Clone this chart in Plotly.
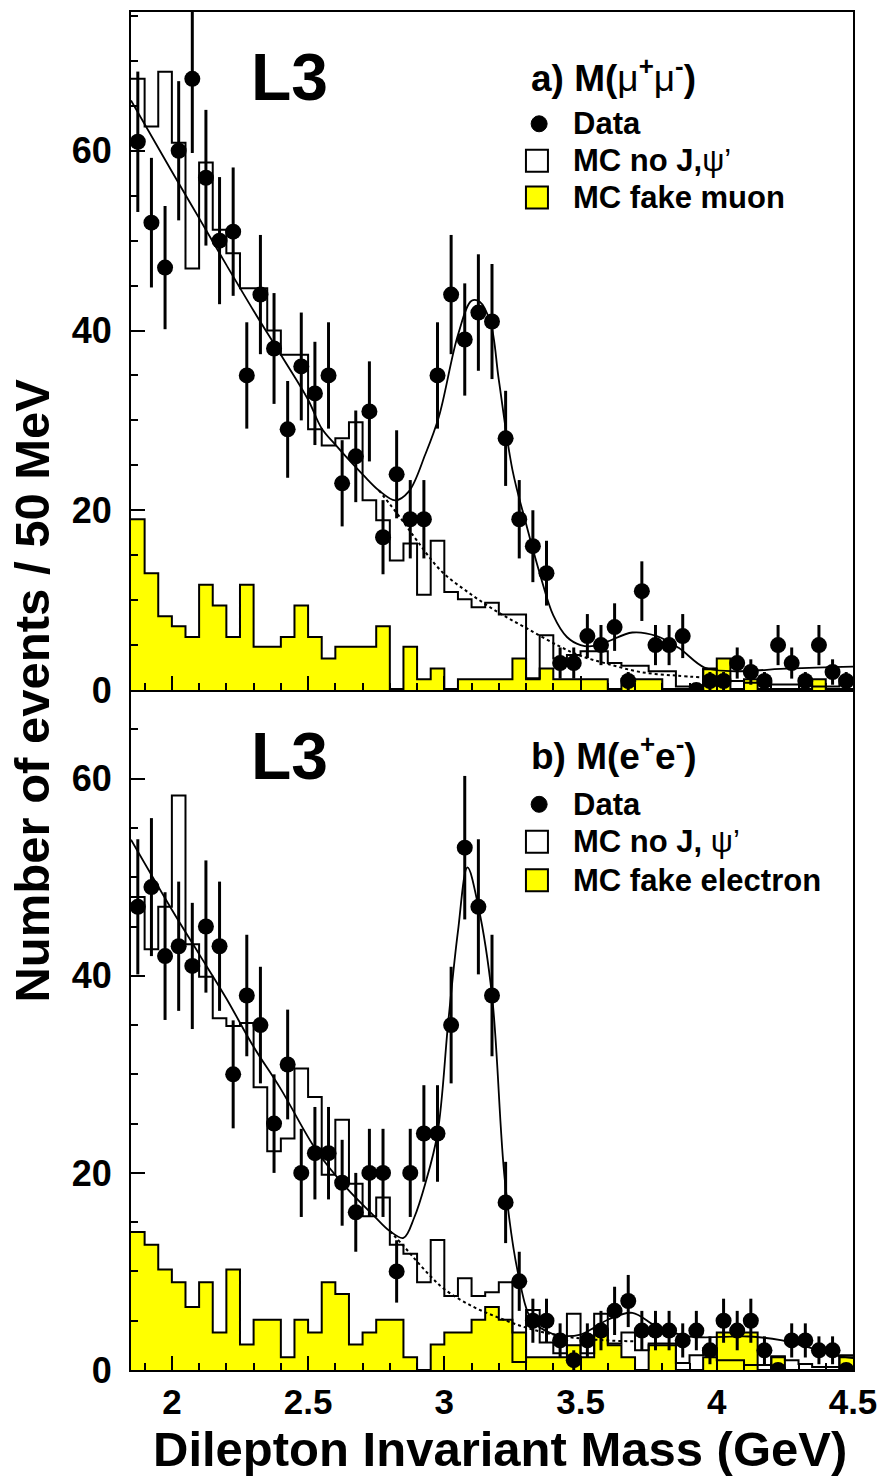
import numpy as np
import plotly.graph_objects as go

# ---------------- data ----------------
bin_lo = 1.85
bin_w = 0.05

# panel a) M(mu+ mu-)
data_mumu = [61, 52, 47, 60, 68, 57, 50, 51, 35, 44, 38, 29, 36, 33, 35, 23, 26, 31, 17, 24,
             19, 19, 35, 44, 39, 42, 41, 28, 19, 16, 13, 3, 3, 6, 5, 7, 1, 11, 5, 5,
             6, 0, 1, 1, 3, 2, 1, 5, 3, 1, 5, 2, 1]
mc_nojpsi_mumu = [68, 62.7, 68.8, 60.9, 46.9, 58.7, 51.2, 48.6, 44.7, 44.7, 40, 37.3, 37.3, 29.0,
                  27.2, 28.0, 29.8, 21.1, 18.9, 14.4, 16.3, 10.6, 16.6, 10.9, 10.1, 9.2, 9.7, 8.4,
                  8.4, 1.3, 6.1, 3.5, 3.9, 4.3, 4.3, 3.0, 2.7, 2.7, 2.1, 2.1, 0.4, 0.4, 2.3, 1.0,
                  1.0, 0.8, 0.8, 0.6, 0.6, 0.6, 0.4, 0.4, 1.2]
mc_fake_muon = [19.0, 13.0, 8.2, 7.1, 5.9, 11.7, 9.4, 5.9, 11.7, 4.8, 4.8, 5.9, 9.4, 5.9, 3.5,
                4.8, 4.8, 4.8, 7.1, 0, 4.8, 1.2, 2.4, 0, 1.2, 1.2, 1.2, 1.2, 3.5, 1.2, 2.4, 1.2,
                1.2, 1.2, 1.2, 0, 1.2, 1.2, 1.2, 0, 0, 0, 2.4, 3.5, 0, 1.2, 0, 0, 0, 0, 1.2, 0, 0]
fit_mumu_x = [1.85, 2.0, 2.1, 2.2, 2.3, 2.4, 2.5, 2.55, 2.6, 2.65, 2.7, 2.76, 2.82, 2.87, 2.93,
              2.98, 3.05, 3.1, 3.13, 3.17, 3.2, 3.25, 3.3, 3.35, 3.4, 3.45, 3.5, 3.55, 3.6, 3.69,
              3.78, 3.86, 3.955, 4.05, 4.27, 4.5]
fit_mumu_y = [65.6, 57.7, 52.5, 47.3, 42.2, 37.3, 32.3, 29.1, 27.3, 25.6, 24.0, 22.2, 21.1, 22.1,
              26.2, 30.4, 39.5, 43.3, 43.2, 40.8, 34.5, 24.5, 18.5, 13.0, 8.3, 5.9, 5.0, 4.9,
              5.4, 6.4, 6.0, 4.7, 2.5, 2.1, 2.4, 2.6]
bkg_mumu_x = [2.76, 2.84, 2.9, 2.99, 3.1, 3.2, 3.3, 3.42, 3.5, 3.6, 3.72, 3.85, 3.95]
bkg_mumu_y = [22.2, 19.1, 16.6, 13.2, 10.6, 8.6, 6.9, 4.9, 3.8, 2.9, 2.0, 1.6, 1.4]

# panel b) M(e+ e-)
data_ee = [47, 49, 42, 43, 41, 45, 43, 30, 38, 35, 25, 31, 20, 22, 22, 19, 16, 20, 20, 10,
           20, 24, 24, 35, 53, 47, 38, 17, 9, 5, 5, 3, 1, 3, 4, 6, 7, 4, 4, 4,
           3, 4, 2, 5, 4, 5, 2, 0, 3, 3, 2, 2, 0]
mc_nojpsi_ee = [48.0, 42.7, 47.0, 58.3, 43.2, 39.9, 35.7, 34.9, 35.2, 28.7, 22.2, 23.5, 30.6,
                27.7, 19.8, 25.4, 18.9, 15.6, 17.5, 12.7, 11.8, 8.9, 13.2, 7.5, 9.3, 7.5, 7.9,
                8.9, 0.8, 6.1, 2.8, 1.7, 5.7, 1.7, 5.7, 2.7, 3.8, 2.0, 2.7, 2.7, 0.7, 1.5, 2.2,
                1.0, 1.0, 0.5, 0.5, 1.4, 1.0, 0.6, 0.3, 0.3, 1.5]
mc_fake_electron = [14.0, 12.7, 10.2, 8.9, 6.4, 8.9, 3.8, 10.2, 2.6, 5.1, 5.1, 1.3, 5.1, 3.8,
                    8.9, 7.7, 2.6, 3.8, 5.1, 5.1, 1.3, 0, 2.6, 3.8, 3.8, 5.1, 6.4, 5.1, 3.8,
                    1.3, 1.3, 1.3, 2.5, 1.3, 3.8, 2.5, 1.3, 0, 2.5, 2.5, 0, 0, 1.3, 3.8, 3.8,
                    3.8, 0, 1.3, 0, 0, 0, 0, 1.3]
fit_ee_x = [1.85, 2.0, 2.1, 2.2, 2.3, 2.4, 2.53, 2.64, 2.74, 2.8, 2.85, 2.89, 2.93, 2.975,
            3.015, 3.05, 3.085, 3.125, 3.175, 3.222, 3.27, 3.32, 3.37, 3.42, 3.5, 3.55, 3.6,
            3.69, 3.78, 3.9, 4.12, 4.24, 4.35, 4.45, 4.5]
fit_ee_y = [53.8, 46.7, 42.2, 37.7, 32.8, 28.5, 22.3, 18.5, 15.7, 14.1, 13.4, 15.5, 18.9, 24.0,
            35.5, 44.5, 51.0, 47.0, 38.0, 19.3, 9.9, 5.1, 4.0, 3.5, 3.6, 4.3, 5.1, 5.8, 4.4,
            3.4, 3.4, 3.0, 2.2, 1.4, 1.2]
bkg_ee_x = [2.8, 2.85, 2.9, 2.95, 3.0, 3.1, 3.2, 3.3, 3.4, 3.5, 3.6, 3.7]
bkg_ee_y = [14.1, 12.6, 11.0, 9.5, 8.2, 6.5, 5.3, 4.3, 3.6, 3.2, 3.0, 2.9]

x_ticks = [2, 2.5, 3, 3.5, 4, 4.5]
x_ticktext = ["2", "2.5", "3", "3.5", "4", "4.5"]
y_ticks = [0, 20, 40, 60]

# ---------------- figure ----------------
n = len(data_mumu)
centers = bin_lo + bin_w * (np.arange(n) + 0.5)
edges = bin_lo + bin_w * np.arange(n + 1)

FONT = "Liberation Sans"
YELLOW = "#ffff00"

fig = go.Figure()


def add_panel(xa, ya, data, mc, fake, fx, fy, bx, by):
    fake = np.asarray(fake, float)
    mc = np.asarray(mc, float)
    data = np.asarray(data, float)
    fig.add_trace(go.Scatter(x=edges, y=np.append(fake, fake[-1]), mode="lines",
                             line=dict(shape="hv", color="black", width=2),
                             fill="tozeroy", fillcolor=YELLOW, xaxis=xa, yaxis=ya,
                             hoverinfo="skip"))
    fig.add_trace(go.Scatter(x=edges, y=np.append(mc, mc[-1]), mode="lines",
                             line=dict(shape="hv", color="black", width=2),
                             xaxis=xa, yaxis=ya, hoverinfo="skip"))
    fig.add_trace(go.Scatter(x=bx, y=by, mode="lines",
                             line=dict(shape="spline", color="black", width=2, dash="dot"),
                             xaxis=xa, yaxis=ya))
    fig.add_trace(go.Scatter(x=fx, y=fy, mode="lines",
                             line=dict(shape="spline", smoothing=1.0, color="black", width=1.8),
                             xaxis=xa, yaxis=ya))
    fig.add_trace(go.Scatter(x=centers, y=data, mode="markers",
                             marker=dict(size=16, color="black", symbol="circle"),
                             error_y=dict(type="data", array=np.sqrt(data), thickness=3,
                                          width=0, color="black"),
                             xaxis=xa, yaxis=ya))


add_panel("x2", "y2", data_mumu, mc_nojpsi_mumu, mc_fake_muon,
          fit_mumu_x, fit_mumu_y, bkg_mumu_x, bkg_mumu_y)
add_panel("x", "y", data_ee, mc_nojpsi_ee, mc_fake_electron,
          fit_ee_x, fit_ee_y, bkg_ee_x, bkg_ee_y)

split = (1370 - 689) / 1360.0
ytickfont = dict(family=FONT, size=36, color="black", weight="bold")
xtickfont = dict(family=FONT, size=35, color="black", weight="bold")

common_x = dict(range=[1.85, 4.5], showline=True, linewidth=2, linecolor="black", mirror=True,
                ticks="inside", ticklen=14, tickwidth=2, tickcolor="black",
                tickvals=x_ticks, ticktext=x_ticktext, showgrid=False, zeroline=False,
                minor=dict(dtick=0.1, tick0=0, ticks="inside", ticklen=7, tickwidth=2,
                           tickcolor="black", showgrid=False))
common_y = dict(showline=True, linewidth=2, linecolor="black", mirror=True,
                ticks="inside", ticklen=14, tickwidth=2, tickcolor="black",
                tickvals=y_ticks, showgrid=False, zeroline=False, tickfont=ytickfont,
                ticklabelstandoff=10,
                minor=dict(dtick=5, tick0=0, ticks="inside", ticklen=7, tickwidth=2,
                           tickcolor="black", showgrid=False))

fig.update_layout(
    width=887, height=1480,
    margin=dict(l=131, r=30, t=10, b=110),
    plot_bgcolor="white", paper_bgcolor="white",
    showlegend=False,
    font=dict(family=FONT, color="black"),
    xaxis=dict(domain=[0, 1], anchor="y", tickfont=xtickfont, ticklabelstandoff=0, **common_x),
    yaxis=dict(domain=[0, split], range=[0, 69.0], anchor="x", **common_y),
    xaxis2=dict(domain=[0, 1], anchor="y2", matches="x", showticklabels=False, **common_x),
    yaxis2=dict(domain=[split, 1], range=[0, 75.44], anchor="x2", **common_y),
)

ann = []
# big L3 labels
ann.append(dict(x=2.432, y=68.2, xref="x2", yref="y2", text="<b>L3</b>", showarrow=False,
                font=dict(size=66, family=FONT), xanchor="center", yanchor="middle"))
ann.append(dict(x=2.432, y=62.3, xref="x", yref="y", text="<b>L3</b>", showarrow=False,
                font=dict(size=66, family=FONT), xanchor="center", yanchor="middle"))
# panel titles
ann.append(dict(x=3.311, y=68.4, xref="x2", yref="y2",
                text="<b>a) M(</b>μ<sup><b>+</b></sup>μ<sup><b>-</b></sup><b>)</b>",
                showarrow=False, font=dict(size=37, family=FONT), xanchor="left", yanchor="middle"))
ann.append(dict(x=3.311, y=62.6, xref="x", yref="y",
                text="<b>b) M(e<sup>+</sup>e<sup>-</sup>)</b>",
                showarrow=False, font=dict(size=37, family=FONT), xanchor="left", yanchor="middle"))

leg_top = [("<b>Data</b>", 63.0), ("<b>MC no J,</b>ψ’", 58.9), ("<b>MC fake muon</b>", 54.8)]
leg_bot = [("<b>Data</b>", 57.4), ("<b>MC no J, </b>ψ’", 53.6), ("<b>MC fake electron</b>", 49.7)]
for (items, xr, yr) in [(leg_top, "x2", "y2"), (leg_bot, "x", "y")]:
    for txt, yv in items:
        ann.append(dict(x=3.465, y=yv, xref=xr, yref=yr, text=txt, showarrow=False,
                        font=dict(size=31, family=FONT), xanchor="left", yanchor="middle"))

shapes = []
for (items, xr, yr) in [(leg_top, "x2", "y2"), (leg_bot, "x", "y")]:
    # data marker
    shapes.append(dict(type="circle", xref=xr, yref=yr, xsizemode="pixel", ysizemode="pixel",
                       xanchor=3.348, yanchor=items[0][1], x0=-8, x1=8, y0=-8, y1=8,
                       fillcolor="black", line=dict(color="black", width=1)))
    # white box
    shapes.append(dict(type="rect", xref=xr, yref=yr, xsizemode="pixel", ysizemode="pixel",
                       xanchor=3.34, yanchor=items[1][1], x0=-11, x1=11, y0=-11, y1=11,
                       fillcolor="white", line=dict(color="black", width=2)))
    # yellow box
    shapes.append(dict(type="rect", xref=xr, yref=yr, xsizemode="pixel", ysizemode="pixel",
                       xanchor=3.34, yanchor=items[2][1], x0=-11, x1=11, y0=-11, y1=11,
                       fillcolor=YELLOW, line=dict(color="black", width=2)))

# axis titles
ann.append(dict(x=-0.1377, y=0.5, xref="paper", yref="paper",
                text="<b>Number of events / 50 MeV</b>", textangle=-90, showarrow=False,
                font=dict(size=49, family=FONT), xanchor="center", yanchor="middle"))
ann.append(dict(x=0.511, y=-0.0585, xref="paper", yref="paper",
                text="<b>Dilepton Invariant Mass (GeV)</b>", showarrow=False,
                font=dict(size=49, family=FONT), xanchor="center", yanchor="middle"))

fig.update_layout(annotations=ann, shapes=shapes)
fig.write_html("out.html")
